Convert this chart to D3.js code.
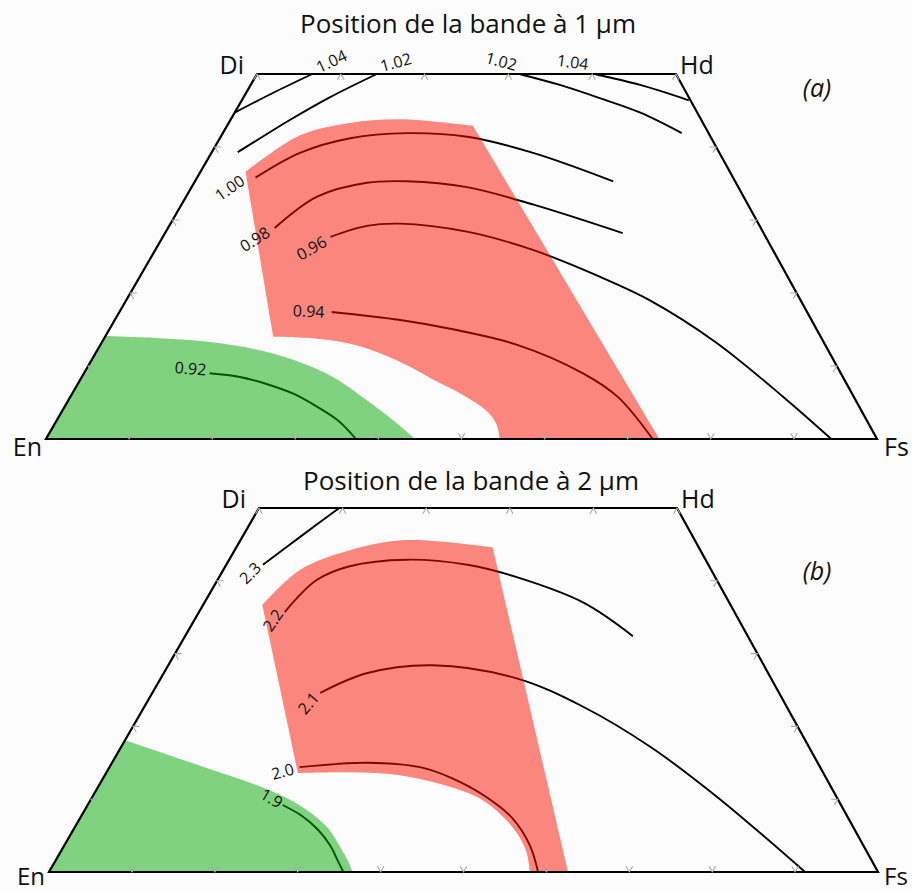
<!DOCTYPE html>
<html><head><meta charset="utf-8">
<script src="https://cdn.jsdelivr.net/npm/d3@7/dist/d3.min.js"></script>
<style>body{margin:0;background:#fcfcfc}svg{display:block}</style>
</head><body>
<script>
// ---------- DATA (compositions in %: [Fs, Wo]) ----------
const titles = ["Position de la bande à 1 µm", "Position de la bande à 2 µm"];
const panelTags = ["(a)", "(b)"];
const cornerNames = ["En", "Fs", "Di", "Hd"];
const bottomTicks = [10, 20, 30, 40, 50, 60, 70, 80, 90];
const topTicks = [0, 10, 20, 30, 40, 50];
const sideTicks = [10, 20, 30, 40];

// Panel (a): band I position (µm)
const levelsA = ["1.04", "1.02", "1.02", "1.04", "1.00", "0.98", "0.96", "0.94", "0.92"];
const contoursA = [
  [[6.6, 50], [3.2, 47.4], [0, 44.7]],
  [[14.3, 50], [10.3, 46.8], [7.1, 43.7], [5.0, 41.4], [3.1, 39.3]],
  [[31.3, 50], [36.9, 48.5], [42.6, 46.7], [48.5, 44.7], [54.9, 41.9]],
  [[40.3, 50], [46.5, 48.5], [53.4, 46.4]],
  [[7.0, 35.8], [10.6, 39.2], [15.6, 41.2], [22.0, 41.9], [29.5, 41.4], [38.5, 39.2], [50.1, 35.3]],
  [[12.8, 28.9], [15.7, 33.2], [20.7, 35.1], [25.4, 35.3], [33.0, 34.5], [42.2, 32.1], [54.9, 28.2]],
  [[20.1, 27.7], [23.7, 29.2], [27.5, 29.5], [36.1, 28.4], [45.3, 25.9], [55.3, 22.2], [62.9, 19.0], [73.7, 13.3], [85.7, 5.8], [94.5, 0]],
  [[25.5, 17.4], [34.3, 16.3], [40.9, 15.1], [50.1, 12.9], [60.0, 9.0], [65.8, 5.8], [73.0, 0]],
  [[15.1, 9.0], [19.0, 8.5], [22.8, 7.5], [26.6, 6.2], [30.4, 4.4], [33.9, 2.5], [37.3, 0]]
];
const redTopA = [[5.4, 36.6], [9.4, 41.6], [14.5, 43.3], [20.2, 43.8], [29.4, 42.9]];
const redOuterBaseA = [73.8, 0];
const redInnerA = [[54.6, 0], [53.2, 2.0], [51.4, 3.6], [48.9, 5.1], [45.9, 6.6], [42.3, 8.2], [37.1, 10.6], [31.3, 12.7], [26.0, 13.7], [20.2, 14.0]];
const greenArcA = [[0, 14.1], [6.7, 13.8], [13.0, 13.3], [18.9, 12.3], [24.4, 10.8], [30.2, 8.5], [35.9, 5.3], [40.4, 2.6], [44.4, 0]];

// Panel (b): band II position (µm)
const levelsB = ["2.3", "2.2", "2.1", "2.0", "1.9"];
const contoursB = [
  [[4.4, 42.2], [6.9, 46.0], [9.6, 50]],
  [[10.3, 35.7], [11.9, 40.1], [14.9, 42.0], [21.3, 42.9], [28.9, 42.2], [35.7, 40.5], [45.5, 37.0], [53.8, 32.4]],
  [[20.2, 24.6], [24.4, 27.3], [31.8, 28.4], [42.8, 26.6], [52.8, 22.7], [63.7, 17.2], [75.3, 10.3], [91.2, 0]],
  [[22.9, 14.4], [30.7, 15.0], [37.4, 14.4], [42.0, 12.9], [47.3, 10.4], [52.1, 7.4], [56.1, 3.7], [59.0, 0]],
  [[23.5, 9.2], [26.6, 7.7], [29.5, 5.8], [32.1, 3.6], [34.0, 1.6], [35.5, 0]]
];
const redTopB = [[7.1, 36.7], [9.2, 41.5], [13.8, 44.2], [19.9, 45.6], [30.7, 44.6]];
const redOuterBaseB = [62.6, 0];
const redInnerB = [[58.0, 0], [56.0, 3.0], [52.6, 6.3], [47.4, 9.8], [42.4, 11.7], [35.5, 13.3], [29.3, 13.7], [23.1, 13.6]];
const greenArcB = [[0, 18.1], [10.8, 14.6], [18.8, 12.0], [23.2, 10.3], [27.3, 8.2], [30.6, 6.0], [33.5, 3.3], [35.4, 1.4], [36.6, 0]];

// ---------- LAYOUT ----------
const W = 912, H = 892;
const frames = [
  {en: [46, 439], fs: [877, 439], di: [257, 74], hd: [676, 74], titleX: 468, titleY: 33, tag: [817, 97], baseDy: 17, baseSize: 25, fsDx: 7},
  {en: [49, 872], fs: [878, 872], di: [259, 508], hd: [677, 508], titleX: 471, titleY: 490, tag: [817, 580], baseDy: 13, baseSize: 24, fsDx: 6}
];
// label offsets (px) from first contour point, and rotation (deg)
const labelLayoutA = [[19, -13, -25], [19, -12, -15], [-18, -13, 15], [-22, -12, 8], [-26, 10, -35], [-20, 11, -32], [-19, 11, -30], [-23, -1, 3], [-19, -5, 5]];
const labelLayoutB = [[-13, 8, -45], [-12, 8, -55], [-12, 10, -50], [-17, 4, -15], [-11, -7, 30]];

const FONT = "'Open Sans', 'Noto Sans', sans-serif";
const svg = d3.select("body").append("svg").attr("width", W).attr("height", H);
svg.append("rect").attr("width", W).attr("height", H).attr("fill", "#fcfcfc");

function makeProj(f) {
  const yS = d3.scaleLinear().domain([0, 50]).range([f.en[1], f.di[1]]);
  const leftS = d3.scaleLinear().domain([0, 50]).range([f.en[0], f.di[0]]);
  const rightS = d3.scaleLinear().domain([0, 50]).range([f.fs[0], f.hd[0]]);
  return function (d) {
    const fs = d[0], wo = d[1];
    const t = fs / (100 - wo);
    const row = d3.scaleLinear().domain([0, 1]).range([leftS(wo), rightS(wo)]);
    return [row(t), yS(wo)];
  };
}

function drawPanel(i, contours, levels, labelLayout, redTop, redBase, redInner, greenArc) {
  const f = frames[i];
  const P = makeProj(f);
  const g = svg.append("g");
  const smooth = d3.line().x(d => P(d)[0]).y(d => P(d)[1]).curve(d3.curveCatmullRom.alpha(0.5));
  const straight = d3.line().x(d => P(d)[0]).y(d => P(d)[1]);

  // contour lines (below translucent fills)
  g.append("g").selectAll("path").data(contours).join("path")
    .attr("d", smooth).attr("fill", "none").attr("stroke", "#000").attr("stroke-width", 1.9);

  // red field
  const redPath = smooth(redTop) + "L" + P(redBase).join(",") + smooth(redInner).replace(/^M/, "L") + "Z";
  g.append("path").attr("d", redPath).attr("fill", "#f81000").attr("fill-opacity", 0.5);
  // green field
  const greenPath = "M" + P([0, 0]).join(",") + smooth(greenArc).replace(/^M/, "L") + "Z";
  g.append("path").attr("d", greenPath).attr("fill", "#04a804").attr("fill-opacity", 0.5);

  // frame
  g.append("path").attr("d", straight([[0, 0], [100, 0], [50, 50], [0, 50]]) + "Z")
    .attr("fill", "none").attr("stroke", "#000").attr("stroke-width", 2.2).attr("stroke-linejoin", "miter");

  // ticks (grid stubs)
  const dd = 0.8;
  const stubs = [];
  bottomTicks.forEach(v => stubs.push([[v - dd, dd], [v, 0], [v, dd]]));
  topTicks.forEach(v => stubs.push([[v, 50 - dd], [v, 50], [v + dd, 50 - dd]]));
  sideTicks.forEach(w => stubs.push([[dd, w], [0, w], [dd, w - dd]]));
  sideTicks.forEach(w => stubs.push([[100 - w - dd, w], [100 - w, w], [100 - w, w - dd]]));
  g.append("g").selectAll("path").data(stubs).join("path")
    .attr("d", straight).attr("fill", "none").attr("stroke", "#a8a8a8").attr("stroke-width", 1.1);

  // contour labels
  g.append("g").selectAll("text").data(contours).join("text")
    .attr("transform", (d, k) => {
      const p = P(d[0]);
      const L = labelLayout[k];
      return `translate(${p[0] + L[0]},${p[1] + L[1]}) rotate(${L[2]})`;
    })
    .attr("text-anchor", "middle").attr("dominant-baseline", "central")
    .attr("font-family", FONT).attr("font-size", 16).attr("fill", "#111")
    .text((d, k) => levels[k]);

  // corner names
  const corners = [
    {t: cornerNames[0], p: [0, 0], dx: -4, dy: f.baseDy, a: "end", s: f.baseSize},
    {t: cornerNames[1], p: [100, 0], dx: f.fsDx, dy: f.baseDy, a: "start", s: f.baseSize},
    {t: cornerNames[2], p: [0, 50], dx: -13, dy: 0, a: "end", s: 25},
    {t: cornerNames[3], p: [50, 50], dx: 4, dy: 0, a: "start", s: 25}
  ];
  g.append("g").selectAll("text").data(corners).join("text")
    .attr("x", d => P(d.p)[0] + d.dx).attr("y", d => P(d.p)[1] + d.dy)
    .attr("text-anchor", d => d.a).attr("font-family", FONT).attr("font-size", d => d.s).attr("fill", "#111")
    .text(d => d.t);

  // title and tag
  g.append("text").attr("x", f.titleX).attr("y", f.titleY).attr("text-anchor", "middle")
    .attr("font-family", FONT).attr("font-size", 26).attr("fill", "#111").text(titles[i]);
  g.append("text").attr("x", f.tag[0]).attr("y", f.tag[1]).attr("text-anchor", "middle")
    .attr("font-family", FONT).attr("font-style", "italic").attr("font-size", 25).attr("fill", "#111").text(panelTags[i]);
}

drawPanel(0, contoursA, levelsA, labelLayoutA, redTopA, redOuterBaseA, redInnerA, greenArcA);
drawPanel(1, contoursB, levelsB, labelLayoutB, redTopB, redOuterBaseB, redInnerB, greenArcB);
</script>
</body></html>
